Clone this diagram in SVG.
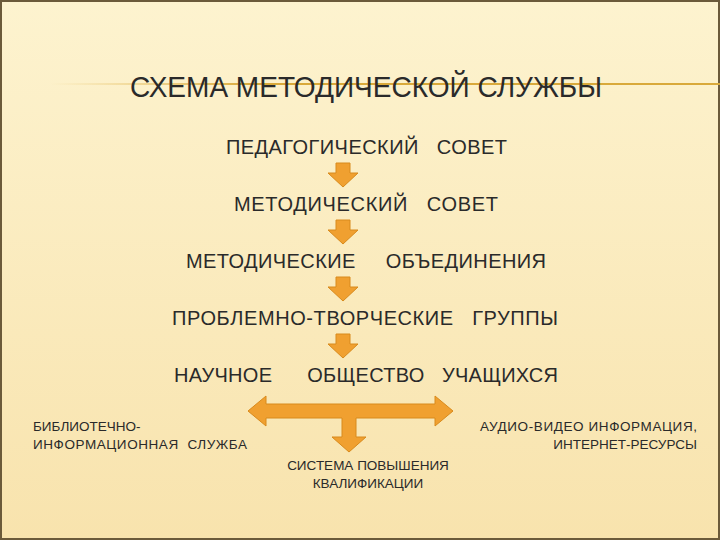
<svg xmlns="http://www.w3.org/2000/svg" width="720" height="540" viewBox="0 0 720 540">
<defs>
<linearGradient id="bg" x1="0" y1="0" x2="0" y2="1"><stop offset="0" stop-color="#fdf3cf"/><stop offset="1" stop-color="#f8e3ad"/></linearGradient>
<linearGradient id="ln" x1="0" y1="0" x2="1" y2="0"><stop offset="0" stop-color="#e8c46a" stop-opacity="0"/><stop offset="0.3" stop-color="#d9a93a"/><stop offset="1" stop-color="#d9a93a"/></linearGradient>
<path id="dn" d="M-7,0 H7 V10 H15 L0,24 L-15,10 H-7 Z"/>
</defs>
<style>
text{font-family:"Liberation Sans",Arial,sans-serif;fill:#2a2a2a}
.t{font-size:30px}.n{font-size:20px}.s{font-size:13.5px}
.a{fill:#f0a030;stroke:#d88a1c;stroke-width:1}
</style>
<rect width="720" height="540" fill="url(#bg)"/>
<rect x="1" y="1" width="718" height="538" fill="none" stroke="#6b5a3a" stroke-width="2"/>
<rect x="50" y="83" width="670" height="2" fill="url(#ln)"/>
<text class="t" x="130" y="97" textLength="472" lengthAdjust="spacingAndGlyphs">СХЕМА МЕТОДИЧЕСКОЙ СЛУЖБЫ</text>
<g id="n1"><text class="n" x="226" y="154" textLength="281" xml:space="preserve">ПЕДАГОГИЧЕСКИЙ   СОВЕТ</text></g>
<g id="n2"><text class="n" x="234" y="211" textLength="264" xml:space="preserve">МЕТОДИЧЕСКИЙ   СОВЕТ</text></g>
<g id="n3"><text class="n" x="186" y="268" textLength="360" xml:space="preserve">МЕТОДИЧЕСКИЕ     ОБЪЕДИНЕНИЯ</text></g>
<g id="n4"><text class="n" x="172" y="325" textLength="386" xml:space="preserve">ПРОБЛЕМНО-ТВОРЧЕСКИЕ   ГРУППЫ</text></g>
<g id="n5"><text class="n" x="174" y="382" textLength="384" xml:space="preserve">НАУЧНОЕ      ОБЩЕСТВО   УЧАЩИХСЯ</text></g>
<g id="n6"><text class="s" x="33" y="431">БИБЛИОТЕЧНО-</text><text class="s" x="33" y="449" textLength="214" xml:space="preserve">ИНФОРМАЦИОННАЯ  СЛУЖБА</text></g>
<g id="n7"><text class="s" x="480" y="431" textLength="217">АУДИО-ВИДЕО ИНФОРМАЦИЯ,</text><text class="s" x="697" y="449" text-anchor="end">ИНТЕРНЕТ-РЕСУРСЫ</text></g>
<g id="n8"><text class="s" x="368" y="470" text-anchor="middle">СИСТЕМА ПОВЫШЕНИЯ</text><text class="s" x="368" y="488" text-anchor="middle">КВАЛИФИКАЦИИ</text></g>
<g id="connectors">
<use href="#dn" class="a" transform="translate(343,163)"/>
<use href="#dn" class="a" transform="translate(343,220)"/>
<use href="#dn" class="a" transform="translate(343,277)"/>
<use href="#dn" class="a" transform="translate(343,334)"/>
<path class="a" d="M248,411 L266,396 V404 H435 V396 L453,411 L435,426 V418 H356 V437 H366 L349,452 L332,437 H342 V418 H266 V426 Z"/>
</g>
</svg>
